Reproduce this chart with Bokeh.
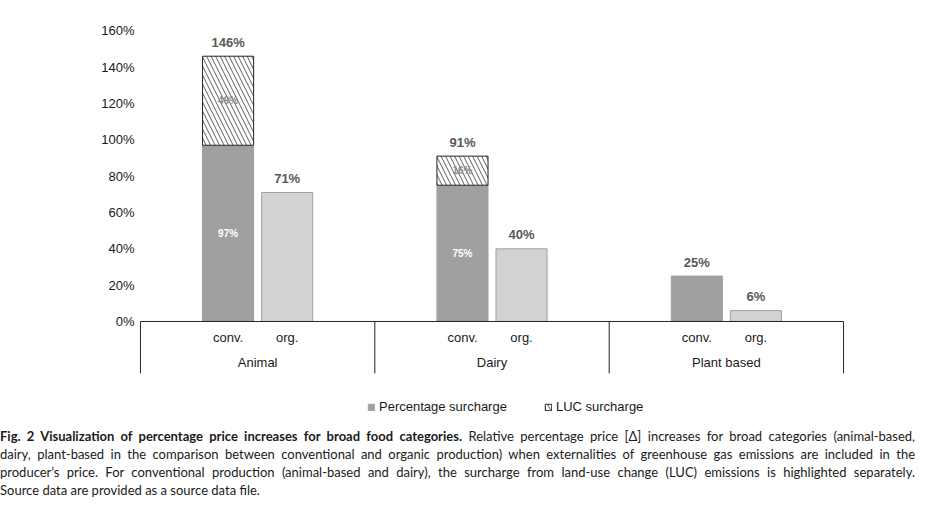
import math
from bokeh.plotting import figure
from bokeh.models import (Range1d, FixedTicker, PrintfTickFormatter, Legend,
                          LegendItem, Label, Div, ColumnDataSource)
from bokeh.layouts import column
from bokeh.embed import file_html
from bokeh.resources import INLINE
from bokeh.core.properties import value

# ---------------- data ----------------
categories = ["Animal", "Dairy", "Plant based"]
sub_labels = ["conv.", "org."]
conv_surcharge = [97, 75, 25]     # percentage surcharge, conventional
luc_surcharge = [49, 16, 0]       # LUC surcharge, conventional
org_surcharge = [71, 40, 6]       # percentage surcharge, organic
y_ticks = [0, 20, 40, 60, 80, 100, 120, 140, 160]
y_title = "Percentage surcharge [Δ]"
legend_labels = ["Percentage surcharge", "LUC surcharge"]
caption_bold = "Fig. 2 Visualization of percentage price increases for broad food categories."
caption_lines = [
    " Relative percentage price [Δ] increases for broad categories (animal-based,",
    "dairy, plant-based in the comparison between conventional and organic production) when externalities of greenhouse gas emissions are included in the",
    "producer’s price. For conventional production (animal-based and dairy), the surcharge from land-use change (LUC) emissions is highlighted separately.",
    "Source data are provided as a source data file.",
]

# ---------------- layout helpers ----------------
FONT = "Liberation Sans"
n = len(categories)
conv_x = [i + 0.374 for i in range(n)]
org_x = [i + 0.626 for i in range(n)]
group_x = [i + 0.5 for i in range(n)]
bar_w = 0.218
conv_total = [a + b for a, b in zip(conv_surcharge, luc_surcharge)]

p = figure(width=915, height=427,
           x_range=Range1d(-0.004, n + 0.004), y_range=Range1d(-54.5, 160.15),
           x_axis_location=None, title=None, toolbar_location=None,
           output_backend="svg",
           min_border_left=139, min_border_right=71,
           min_border_top=30, min_border_bottom=7)
p.outline_line_color = None
p.grid.visible = False
p.background_fill_color = "white"

ax = p.yaxis[0]
ax.ticker = FixedTicker(ticks=y_ticks)
ax.formatter = PrintfTickFormatter(format="%d%%")
ax.axis_line_color = None
ax.major_tick_line_color = None
ax.minor_tick_line_color = None
ax.major_tick_out = 0
ax.minor_tick_out = 0
ax.major_label_standoff = 5
ax.major_label_text_font = FONT
ax.major_label_text_font_size = "13px"
ax.major_label_text_color = "#1a1a1a"

# bars
r_conv = p.vbar(x=conv_x, top=conv_surcharge, bottom=0, width=bar_w,
                fill_color="#a0a0a0", line_color="#a0a0a0")
luc_idx = [i for i in range(n) if luc_surcharge[i] > 0]
luc_src = ColumnDataSource(dict(
    x=[conv_x[i] for i in luc_idx],
    bottom=[conv_surcharge[i] for i in luc_idx],
    top=[conv_total[i] for i in luc_idx]))
r_luc = p.vbar(x="x", bottom="bottom", top="top", width=bar_w, source=luc_src,
               fill_color="white", line_color="#222222", line_width=1,
               hatch_pattern="\\", hatch_color="#333333", hatch_scale=9,
               hatch_weight=0.8)
p.vbar(x=org_x, top=org_surcharge, bottom=0, width=bar_w,
       fill_color="#d2d2d2", line_color="#a0a0a0")

# category axis drawn by hand
p.segment(x0=[0], y0=[0], x1=[n], y1=[0], line_color="#222222", line_width=1)
sep = list(range(n + 1))
p.segment(x0=sep, y0=[0] * len(sep), x1=sep, y1=[-28.6] * len(sep),
          line_color="#222222", line_width=1)
p.text(x=conv_x + org_x, y=[-8.8] * (2 * n),
       text=[sub_labels[0]] * n + [sub_labels[1]] * n,
       text_align="center", text_baseline="middle",
       text_font=value(FONT), text_font_size="13px", text_color="#1a1a1a")
p.text(x=group_x, y=[-22.6] * n, text=categories,
       text_align="center", text_baseline="middle",
       text_font=value(FONT), text_font_size="13px", text_color="#1a1a1a")

# value labels
p.text(x=conv_x + org_x, y=[t + 7.7 for t in conv_total + org_surcharge],
       text=[f"{t}%" for t in conv_total + org_surcharge],
       text_align="center", text_baseline="middle",
       text_font=value(FONT), text_font_size="13px", text_font_style="bold",
       text_color="#595959")
p.text(x=[conv_x[i] for i in luc_idx],
       y=[conv_surcharge[i] / 2 for i in luc_idx],
       text=[f"{conv_surcharge[i]}%" for i in luc_idx],
       text_align="center", text_baseline="middle",
       text_font=value(FONT), text_font_size="10px", text_font_style="bold",
       text_color="white")
p.text(x=[conv_x[i] for i in luc_idx],
       y=[conv_surcharge[i] + luc_surcharge[i] / 2 for i in luc_idx],
       text=[f"{luc_surcharge[i]}%" for i in luc_idx],
       text_align="center", text_baseline="middle",
       text_font=value(FONT), text_font_size="10px", text_font_style="bold",
       text_color="#8a8a8a")

# y title
p.add_layout(Label(x=-0.23, y=81.7, x_units="data", y_units="data",
                   text=y_title, angle=math.pi / 2,
                   text_align="center", text_baseline="middle",
                   text_font=FONT, text_font_size="13px", text_color="#1a1a1a"))

# legend
legend = Legend(items=[LegendItem(label=legend_labels[0], renderers=[r_conv]),
                       LegendItem(label=legend_labels[1], renderers=[r_luc])],
                location=(228, 6), orientation="horizontal",
                border_line_color=None, background_fill_alpha=0,
                padding=0, margin=0, spacing=37,
                glyph_width=8, glyph_height=8, label_standoff=4,
                label_height=14,
                label_text_font=FONT, label_text_font_size="13px",
                label_text_color="#1a1a1a")
p.add_layout(legend, "center")

# caption
line_style = "text-align:justify;text-align-last:justify;white-space:nowrap;"
html = ('<div style="font-family:Lato;font-size:13px;line-height:18px;color:#1a1a1a;'
        'width:915px;">'
        f'<div style="{line_style}"><b>{caption_bold}</b>{caption_lines[0]}</div>'
        f'<div style="{line_style}">{caption_lines[1]}</div>'
        f'<div style="{line_style}">{caption_lines[2]}</div>'
        f'<div style="white-space:nowrap;">{caption_lines[3]}</div>'
        '</div>')
cap = Div(text=html, width=915, margin=(0, 0, 0, 0))

layout = column(p, cap, spacing=0)
open("out.html", "w").write(file_html(layout, INLINE))
